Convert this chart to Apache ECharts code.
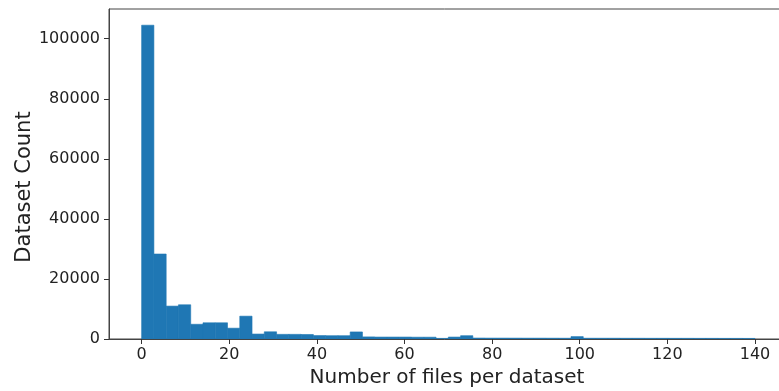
<!DOCTYPE html>
<html>
<head>
<meta charset="utf-8">
<script src="https://cdn.jsdelivr.net/npm/echarts@6/dist/echarts.min.js"></script>
<style>
  html, body { margin: 0; padding: 0; background: #fff; }
  #chart { width: 779px; height: 391px; }
</style>
</head>
<body>
<div id="chart"></div>
<script>
// Histogram of files per dataset: 50 equal-width bins over [0, 140]
const rangeStart = 0;
const rangeEnd = 140;
const binCount = 50;
const binCounts = [
  104500, 28300, 10950, 11400, 4900, 5400, 5400, 3600, 7600, 1650,
  2400, 1550, 1550, 1500, 1150, 1100, 1100, 2350, 700, 650,
  650, 650, 600, 600, 200, 650, 1100, 320, 300, 300,
  290, 280, 280, 270, 260, 800, 260, 250, 250, 240,
  240, 230, 230, 220, 220, 210, 210, 200, 200, 190
];
const xTicks = [0, 20, 40, 60, 80, 100, 120, 140];
const yTicks = [0, 20000, 40000, 60000, 80000, 100000];

const binWidth = (rangeEnd - rangeStart) / binCount;
const bins = binCounts.map((c, i) => [
  rangeStart + i * binWidth,
  rangeStart + (i + 1) * binWidth,
  c
]);

const FONT = 'DejaVu Sans';
const chart = echarts.init(document.getElementById('chart'), null, { renderer: 'canvas' });

chart.setOption({
  animation: false,
  backgroundColor: '#ffffff',
  grid: {
    left: 109, top: 9, width: 676, height: 330,
    containLabel: false,
    outerBoundsMode: 'none',
    show: true, borderColor: '#444', borderWidth: 1, backgroundColor: 'transparent'
  },
  xAxis: {
    type: 'value',
    min: -7.45, max: 146.85,
    z: 5,
    splitLine: { show: false },
    axisLine: { show: true, lineStyle: { color: '#444', width: 1 } },
    axisTick: { show: true, length: 5, lineStyle: { color: '#333' }, customValues: xTicks },
    axisLabel: {
      customValues: xTicks, margin: 8,
      formatter: v => String(v),
      fontFamily: FONT, fontSize: 16, color: '#222'
    },
    name: 'Number of files per dataset',
    nameLocation: 'middle',
    nameGap: 29,
    nameTextStyle: { fontFamily: FONT, fontSize: 20, color: '#222' }
  },
  yAxis: {
    type: 'value',
    min: 0, max: 109900,
    z: 5,
    splitLine: { show: false },
    axisLine: { show: true, onZero: false, lineStyle: { color: '#444', width: 1 } },
    axisTick: { show: true, length: 5, lineStyle: { color: '#333' }, customValues: yTicks },
    axisLabel: {
      customValues: yTicks, margin: 9,
      formatter: v => String(v),
      fontFamily: FONT, fontSize: 16, color: '#222'
    }
  },
  graphic: [{
    type: 'text',
    x: 25, y: 187,
    rotation: Math.PI / 2,
    style: {
      text: 'Dataset Count',
      font: '21px "DejaVu Sans"',
      fill: '#222',
      align: 'center',
      verticalAlign: 'middle'
    }
  }],
  series: [{
    type: 'custom',
    data: bins,
    encode: { x: [0, 1], y: 2 },
    renderItem: function (params, api) {
      const p0 = api.coord([api.value(0), api.value(2)]);
      const p1 = api.coord([api.value(1), 0]);
      return {
        type: 'rect',
        shape: { x: p0[0], y: p0[1], width: p1[0] - p0[0], height: p1[1] - p0[1] },
        style: { fill: '#1f77b4', stroke: '#1f77b4', lineWidth: 0.6 }
      };
    }
  }]
});
</script>
</body>
</html>
